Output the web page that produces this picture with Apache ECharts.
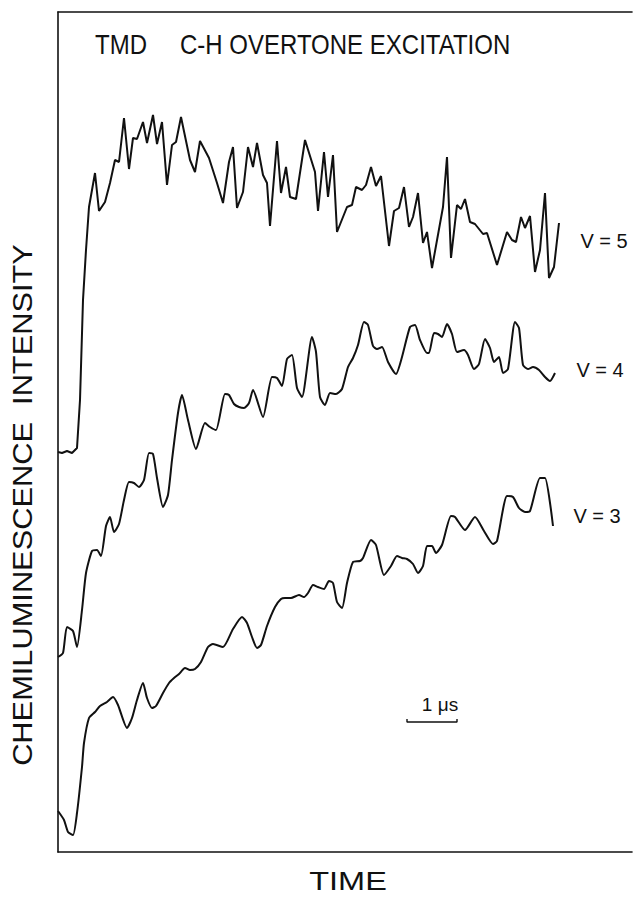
<!DOCTYPE html>
<html>
<head>
<meta charset="utf-8">
<script src="https://cdn.jsdelivr.net/npm/echarts/dist/echarts.min.js"></script>
<style>
html, body {margin: 0; padding: 0; background: #fff;}
#chart {width: 634px; height: 897px;}
</style>
</head>
<body>
<div id="chart"></div>
<script>
// time in ns from trace start, intensity in arbitrary units (traces offset as in the figure)
const t_v5 = [0, 80, 180, 280, 380, 440, 500, 560, 620, 740, 820, 940, 1040, 1140, 1220, 1320, 1420, 1500, 1580, 1700,
    1780, 1900, 1980, 2080, 2180, 2280, 2360, 2460, 2640, 2740, 2840, 3020, 3180, 3300, 3420, 3500, 3580, 3700, 3800, 3900,
    3980, 4100, 4180, 4240, 4380, 4460, 4560, 4640, 4760, 4940, 5140, 5200, 5320, 5400, 5500, 5580, 5780, 5880, 5960, 6080,
    6160, 6260, 6360, 6460, 6620, 6720, 6820, 6920, 7020, 7100, 7200, 7300, 7380, 7480, 7700, 7780, 7860, 7980, 8060, 8140,
    8240, 8340, 8500, 8580, 8780, 8980, 9080, 9160, 9260, 9340, 9440, 9540, 9640, 9740, 9820, 9920, 10020]
const i_v5 = [400, 399, 401, 399, 404, 452, 552, 602, 645, 679, 641, 650, 669, 692, 690, 734, 683, 714, 713, 730,
    709, 737, 708, 730, 667, 707, 710, 735, 692, 680, 711, 694, 669, 649, 690, 705, 644, 660, 705, 685,
    709, 677, 669, 626, 711, 659, 685, 655, 653, 712, 680, 641, 700, 655, 697, 620, 645, 647, 665, 662,
    667, 685, 666, 676, 606, 641, 644, 665, 625, 635, 659, 609, 620, 584, 645, 695, 594, 647, 643, 653,
    630, 628, 618, 619, 587, 620, 612, 610, 635, 624, 636, 580, 602, 659, 574, 585, 629]

const t_v4 = [0, 100, 180, 300, 380, 480, 560, 680, 780, 860, 960, 1040, 1120, 1220, 1320, 1420, 1520, 1620, 1720, 1820,
    1900, 1980, 2100, 2200, 2280, 2400, 2480, 2600, 2760, 2940, 3040, 3160, 3340, 3420, 3520, 3620, 3720, 3820, 3900, 4100,
    4280, 4380, 4480, 4580, 4680, 4780, 4880, 5080, 5160, 5240, 5340, 5440, 5560, 5680, 5800, 5900, 6000, 6120, 6200, 6300,
    6380, 6480, 6600, 6760, 6880, 7040, 7140, 7240, 7380, 7420, 7520, 7600, 7680, 7780, 7880, 7980, 8120, 8200, 8320, 8420,
    8540, 8640, 8720, 8820, 8900, 9000, 9140, 9220, 9300, 9400, 9500, 9620, 9740, 9840, 9940]
const i_v4 = [195, 199, 225, 221, 205, 242, 279, 301, 302, 296, 326, 335, 320, 328, 352, 370, 369, 365, 372, 399,
    398, 374, 345, 357, 392, 439, 457, 432, 403, 429, 425, 422, 458, 457, 448, 445, 444, 449, 462, 435,
    475, 474, 466, 493, 497, 464, 455, 515, 500, 455, 447, 459, 458, 463, 485, 494, 507, 530, 527, 506,
    503, 505, 490, 478, 495, 525, 527, 512, 499, 499, 519, 518, 515, 528, 518, 500, 502, 497, 483, 488,
    513, 504, 490, 495, 479, 483, 530, 524, 487, 483, 485, 482, 475, 471, 479]

const t_v3 = [0, 120, 200, 300, 380, 480, 520, 620, 740, 840, 980, 1100, 1200, 1380, 1480, 1580, 1700, 1780, 1880, 1960,
    2100, 2220, 2320, 2420, 2540, 2640, 2740, 2860, 3000, 3100, 3300, 3500, 3680, 3780, 3880, 3980, 4060, 4180, 4340, 4460,
    4540, 4660, 4820, 4920, 5000, 5100, 5200, 5320, 5420, 5500, 5580, 5680, 5780, 5900, 6040, 6100, 6260, 6360, 6520, 6660,
    6780, 6880, 6980, 7100, 7200, 7300, 7380, 7480, 7560, 7680, 7860, 7940, 8140, 8340, 8520, 8700, 8780, 8980, 9100, 9220,
    9340, 9440, 9640, 9740, 9900]
const i_v3 = [41, 32, 20, 17, 39, 85, 109, 134, 140, 146, 150, 155, 147, 124, 134, 152, 169, 154, 144, 146,
    159, 169, 174, 178, 184, 182, 183, 190, 205, 208, 205, 223, 235, 229, 215, 204, 207, 226, 245, 253,
    254, 254, 257, 255, 259, 267, 265, 263, 271, 269, 250, 244, 269, 290, 291, 294, 312, 307, 277, 286,
    296, 294, 293, 288, 279, 286, 306, 306, 299, 307, 336, 335, 322, 335, 321, 308, 311, 356, 355, 344,
    340, 341, 374, 374, 326]

// 1 us scale bar
const scale_t = [6980, 6980, 7980, 7980]
const scale_i = [133, 130, 130, 133]

const trace_names = ['V = 5', 'V = 4', 'V = 3']

const pair = (t, v) => t.map((x, k) => [x, v[k]])

const INK = '#111'
const FONT = 'Liberation Sans'

const trace = (name, data, smooth) => ({
    name,
    type: 'line',
    data,
    smooth,
    symbol: 'none',
    animation: false,
    lineStyle: {color: INK, width: 2},
})

const axis_line = {show: true, onZero: false, lineStyle: {color: INK, width: 1.6}}

const chart = echarts.init(document.getElementById('chart'), null, {renderer: 'svg'})

chart.setOption({
    backgroundColor: '#fff',
    animation: false,
    grid: {left: 58, right: 2, top: 12, bottom: 45},
    xAxis: [
        {
            type: 'value', min: 0, max: 11480, position: 'bottom',
            axisLine: axis_line, axisTick: {show: false}, axisLabel: {show: false}, splitLine: {show: false},
        },
        {
            type: 'value', min: 0, max: 11480, position: 'top',
            axisLine: axis_line, axisTick: {show: false}, axisLabel: {show: false}, splitLine: {show: false},
        },
    ],
    yAxis: {
        type: 'value', min: 0, max: 840,
        axisLine: axis_line, axisTick: {show: false}, axisLabel: {show: false}, splitLine: {show: false},
    },
    series: [
        trace(trace_names[0], pair(t_v5, i_v5), false),
        trace(trace_names[1], pair(t_v4, i_v4), 0.2),
        trace(trace_names[2], pair(t_v3, i_v3), 0.2),
        {
            name: 'scale',
            type: 'line',
            data: pair(scale_t, scale_i),
            symbol: 'none',
            animation: false,
            lineStyle: {color: INK, width: 1.4},
        },
    ],
    graphic: [
        {
            type: 'text', x: 95, y: 44, scaleY: 1.15,
            style: {text: 'TMD', font: `24px "${FONT}"`, fill: INK, textAlign: 'left', textVerticalAlign: 'middle'},
        },
        {
            type: 'text', x: 180, y: 44, scaleY: 1.15,
            style: {text: 'C-H OVERTONE EXCITATION', font: `24px "${FONT}"`, fill: INK, textAlign: 'left', textVerticalAlign: 'middle'},
        },
        {
            type: 'text', x: 22, y: 505, rotation: Math.PI / 2, scaleX: 1.1,
            style: {text: 'CHEMILUMINESCENCE  INTENSITY', font: `28px "${FONT}"`, fill: INK, textAlign: 'center', textVerticalAlign: 'middle'},
        },
        {
            type: 'text', x: 348, y: 881, scaleX: 1.25,
            style: {text: 'TIME', font: `26px "${FONT}"`, fill: INK, textAlign: 'center', textVerticalAlign: 'middle'},
        },
        {
            type: 'text', x: 604, y: 241,
            style: {text: trace_names[0], font: `20px "${FONT}"`, fill: INK, textAlign: 'center', textVerticalAlign: 'middle'},
        },
        {
            type: 'text', x: 600, y: 370,
            style: {text: trace_names[1], font: `20px "${FONT}"`, fill: INK, textAlign: 'center', textVerticalAlign: 'middle'},
        },
        {
            type: 'text', x: 597, y: 516,
            style: {text: trace_names[2], font: `20px "${FONT}"`, fill: INK, textAlign: 'center', textVerticalAlign: 'middle'},
        },
        {
            type: 'text', x: 440, y: 704,
            style: {text: '1 μs', font: `19px "${FONT}"`, fill: INK, textAlign: 'center', textVerticalAlign: 'middle'},
        },
    ],
})
</script>
</body>
</html>
